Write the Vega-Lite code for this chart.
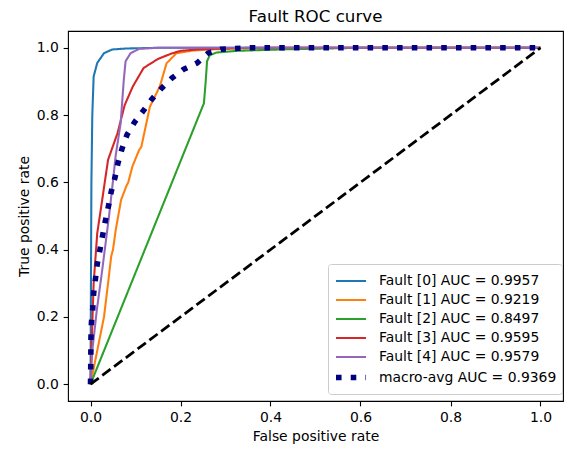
{
  "$schema": "https://vega.github.io/schema/vega-lite/v6.json",
  "width": 495,
  "height": 370,
  "autosize": {"type": "none"},
  "padding": {"left": 68, "top": 31, "right": 17, "bottom": 48},
  "config": {
    "font": "DejaVu Sans",
    "view": {"stroke": "black", "strokeWidth": 1.1},
    "axis": {
      "grid": false,
      "domain": false,
      "tickColor": "black",
      "tickSize": 4.86,
      "tickWidth": 1.1,
      "labelColor": "black",
      "labelFontSize": 13.9,
      "labelPadding": 4.86,
      "titleFontSize": 13.9,
      "titleFontWeight": "normal",
      "titleColor": "black",
      "titlePadding": 5
    },
    "legend": {
      "title": null,
      "orient": "none",
      "legendX": 260,
      "legendY": 233,
      "fillColor": "rgba(255,255,255,0.8)",
      "strokeColor": "#cccccc",
      "cornerRadius": 3,
      "padding": 5,
      "labelFontSize": 13.9,
      "labelColor": "black",
      "labelLimit": 400,
      "labelOffset": 19,
      "symbolType": "M-1,0H1.86",
      "symbolSize": 441,
      "rowPadding": 0
    }
  },
  "title": {
    "text": "Fault ROC curve",
    "fontSize": 16.7,
    "fontWeight": "normal",
    "color": "black",
    "offset": 5
  },
  "layer": [
    {
      "data": {
        "values": [
          {"series": "Fault [0] AUC = 0.9957", "i": 0, "fpr": 0, "tpr": 0},
          {"series": "Fault [0] AUC = 0.9957", "i": 1, "fpr": 0.001, "tpr": 0.3},
          {"series": "Fault [0] AUC = 0.9957", "i": 2, "fpr": 0.002, "tpr": 0.6},
          {"series": "Fault [0] AUC = 0.9957", "i": 3, "fpr": 0.004, "tpr": 0.8},
          {"series": "Fault [0] AUC = 0.9957", "i": 4, "fpr": 0.007, "tpr": 0.915},
          {"series": "Fault [0] AUC = 0.9957", "i": 5, "fpr": 0.015, "tpr": 0.955},
          {"series": "Fault [0] AUC = 0.9957", "i": 6, "fpr": 0.03, "tpr": 0.984},
          {"series": "Fault [0] AUC = 0.9957", "i": 7, "fpr": 0.048, "tpr": 0.995},
          {"series": "Fault [0] AUC = 0.9957", "i": 8, "fpr": 0.08, "tpr": 0.998},
          {"series": "Fault [0] AUC = 0.9957", "i": 9, "fpr": 0.15, "tpr": 1},
          {"series": "Fault [0] AUC = 0.9957", "i": 10, "fpr": 1, "tpr": 1},

          {"series": "Fault [1] AUC = 0.9219", "i": 0, "fpr": 0, "tpr": 0},
          {"series": "Fault [1] AUC = 0.9219", "i": 1, "fpr": 0.015, "tpr": 0.1},
          {"series": "Fault [1] AUC = 0.9219", "i": 2, "fpr": 0.03, "tpr": 0.2},
          {"series": "Fault [1] AUC = 0.9219", "i": 3, "fpr": 0.039, "tpr": 0.3},
          {"series": "Fault [1] AUC = 0.9219", "i": 4, "fpr": 0.046, "tpr": 0.38},
          {"series": "Fault [1] AUC = 0.9219", "i": 5, "fpr": 0.05, "tpr": 0.4},
          {"series": "Fault [1] AUC = 0.9219", "i": 6, "fpr": 0.056, "tpr": 0.458},
          {"series": "Fault [1] AUC = 0.9219", "i": 7, "fpr": 0.068, "tpr": 0.548},
          {"series": "Fault [1] AUC = 0.9219", "i": 8, "fpr": 0.08, "tpr": 0.59},
          {"series": "Fault [1] AUC = 0.9219", "i": 9, "fpr": 0.084, "tpr": 0.6},
          {"series": "Fault [1] AUC = 0.9219", "i": 10, "fpr": 0.093, "tpr": 0.647},
          {"series": "Fault [1] AUC = 0.9219", "i": 11, "fpr": 0.108, "tpr": 0.696},
          {"series": "Fault [1] AUC = 0.9219", "i": 12, "fpr": 0.113, "tpr": 0.706},
          {"series": "Fault [1] AUC = 0.9219", "i": 13, "fpr": 0.132, "tpr": 0.825},
          {"series": "Fault [1] AUC = 0.9219", "i": 14, "fpr": 0.154, "tpr": 0.885},
          {"series": "Fault [1] AUC = 0.9219", "i": 15, "fpr": 0.169, "tpr": 0.954},
          {"series": "Fault [1] AUC = 0.9219", "i": 16, "fpr": 0.191, "tpr": 0.984},
          {"series": "Fault [1] AUC = 0.9219", "i": 17, "fpr": 0.228, "tpr": 0.992},
          {"series": "Fault [1] AUC = 0.9219", "i": 18, "fpr": 0.28, "tpr": 0.996},
          {"series": "Fault [1] AUC = 0.9219", "i": 19, "fpr": 0.4, "tpr": 1},
          {"series": "Fault [1] AUC = 0.9219", "i": 20, "fpr": 1, "tpr": 1},

          {"series": "Fault [2] AUC = 0.8497", "i": 0, "fpr": 0, "tpr": 0},
          {"series": "Fault [2] AUC = 0.8497", "i": 1, "fpr": 0.252, "tpr": 0.835},
          {"series": "Fault [2] AUC = 0.8497", "i": 2, "fpr": 0.256, "tpr": 0.9},
          {"series": "Fault [2] AUC = 0.8497", "i": 3, "fpr": 0.259, "tpr": 0.96},
          {"series": "Fault [2] AUC = 0.8497", "i": 4, "fpr": 0.265, "tpr": 0.978},
          {"series": "Fault [2] AUC = 0.8497", "i": 5, "fpr": 0.28, "tpr": 0.986},
          {"series": "Fault [2] AUC = 0.8497", "i": 6, "fpr": 0.325, "tpr": 0.991},
          {"series": "Fault [2] AUC = 0.8497", "i": 7, "fpr": 0.444, "tpr": 0.996},
          {"series": "Fault [2] AUC = 0.8497", "i": 8, "fpr": 0.6, "tpr": 1},
          {"series": "Fault [2] AUC = 0.8497", "i": 9, "fpr": 1, "tpr": 1},

          {"series": "Fault [3] AUC = 0.9595", "i": 0, "fpr": 0, "tpr": 0},
          {"series": "Fault [3] AUC = 0.9595", "i": 1, "fpr": 0.002, "tpr": 0.1},
          {"series": "Fault [3] AUC = 0.9595", "i": 2, "fpr": 0.007, "tpr": 0.3},
          {"series": "Fault [3] AUC = 0.9595", "i": 3, "fpr": 0.015, "tpr": 0.449},
          {"series": "Fault [3] AUC = 0.9595", "i": 4, "fpr": 0.026, "tpr": 0.548},
          {"series": "Fault [3] AUC = 0.9595", "i": 5, "fpr": 0.039, "tpr": 0.667},
          {"series": "Fault [3] AUC = 0.9595", "i": 6, "fpr": 0.06, "tpr": 0.746},
          {"series": "Fault [3] AUC = 0.9595", "i": 7, "fpr": 0.076, "tpr": 0.83},
          {"series": "Fault [3] AUC = 0.9595", "i": 8, "fpr": 0.094, "tpr": 0.885},
          {"series": "Fault [3] AUC = 0.9595", "i": 9, "fpr": 0.118, "tpr": 0.94},
          {"series": "Fault [3] AUC = 0.9595", "i": 10, "fpr": 0.15, "tpr": 0.967},
          {"series": "Fault [3] AUC = 0.9595", "i": 11, "fpr": 0.18, "tpr": 0.983},
          {"series": "Fault [3] AUC = 0.9595", "i": 12, "fpr": 0.2, "tpr": 0.991},
          {"series": "Fault [3] AUC = 0.9595", "i": 13, "fpr": 0.245, "tpr": 0.996},
          {"series": "Fault [3] AUC = 0.9595", "i": 14, "fpr": 0.35, "tpr": 1},
          {"series": "Fault [3] AUC = 0.9595", "i": 15, "fpr": 1, "tpr": 1},

          {"series": "Fault [4] AUC = 0.9579", "i": 0, "fpr": 0, "tpr": 0},
          {"series": "Fault [4] AUC = 0.9579", "i": 1, "fpr": 0.004, "tpr": 0.1},
          {"series": "Fault [4] AUC = 0.9579", "i": 2, "fpr": 0.014, "tpr": 0.22},
          {"series": "Fault [4] AUC = 0.9579", "i": 3, "fpr": 0.026, "tpr": 0.339},
          {"series": "Fault [4] AUC = 0.9579", "i": 4, "fpr": 0.041, "tpr": 0.498},
          {"series": "Fault [4] AUC = 0.9579", "i": 5, "fpr": 0.048, "tpr": 0.58},
          {"series": "Fault [4] AUC = 0.9579", "i": 6, "fpr": 0.056, "tpr": 0.68},
          {"series": "Fault [4] AUC = 0.9579", "i": 7, "fpr": 0.067, "tpr": 0.776},
          {"series": "Fault [4] AUC = 0.9579", "i": 8, "fpr": 0.074, "tpr": 0.905},
          {"series": "Fault [4] AUC = 0.9579", "i": 9, "fpr": 0.078, "tpr": 0.96},
          {"series": "Fault [4] AUC = 0.9579", "i": 10, "fpr": 0.089, "tpr": 0.984},
          {"series": "Fault [4] AUC = 0.9579", "i": 11, "fpr": 0.108, "tpr": 0.997},
          {"series": "Fault [4] AUC = 0.9579", "i": 12, "fpr": 0.15, "tpr": 1},
          {"series": "Fault [4] AUC = 0.9579", "i": 13, "fpr": 1, "tpr": 1},

          {"series": "macro-avg AUC = 0.9369", "i": 0, "fpr": 0, "tpr": 0},
          {"series": "macro-avg AUC = 0.9369", "i": 1, "fpr": 0.0005, "tpr": 0.05},
          {"series": "macro-avg AUC = 0.9369", "i": 2, "fpr": 0.001, "tpr": 0.137},
          {"series": "macro-avg AUC = 0.9369", "i": 3, "fpr": 0.002, "tpr": 0.182},
          {"series": "macro-avg AUC = 0.9369", "i": 4, "fpr": 0.005, "tpr": 0.225},
          {"series": "macro-avg AUC = 0.9369", "i": 5, "fpr": 0.007, "tpr": 0.27},
          {"series": "macro-avg AUC = 0.9369", "i": 6, "fpr": 0.011, "tpr": 0.313},
          {"series": "macro-avg AUC = 0.9369", "i": 7, "fpr": 0.015, "tpr": 0.357},
          {"series": "macro-avg AUC = 0.9369", "i": 8, "fpr": 0.021, "tpr": 0.4},
          {"series": "macro-avg AUC = 0.9369", "i": 9, "fpr": 0.027, "tpr": 0.443},
          {"series": "macro-avg AUC = 0.9369", "i": 10, "fpr": 0.033, "tpr": 0.486},
          {"series": "macro-avg AUC = 0.9369", "i": 11, "fpr": 0.04, "tpr": 0.53},
          {"series": "macro-avg AUC = 0.9369", "i": 12, "fpr": 0.046, "tpr": 0.572},
          {"series": "macro-avg AUC = 0.9369", "i": 13, "fpr": 0.054, "tpr": 0.612},
          {"series": "macro-avg AUC = 0.9369", "i": 14, "fpr": 0.061, "tpr": 0.657},
          {"series": "macro-avg AUC = 0.9369", "i": 15, "fpr": 0.07, "tpr": 0.7},
          {"series": "macro-avg AUC = 0.9369", "i": 16, "fpr": 0.081, "tpr": 0.741},
          {"series": "macro-avg AUC = 0.9369", "i": 17, "fpr": 0.098, "tpr": 0.779},
          {"series": "macro-avg AUC = 0.9369", "i": 18, "fpr": 0.118, "tpr": 0.814},
          {"series": "macro-avg AUC = 0.9369", "i": 19, "fpr": 0.136, "tpr": 0.847},
          {"series": "macro-avg AUC = 0.9369", "i": 20, "fpr": 0.158, "tpr": 0.88},
          {"series": "macro-avg AUC = 0.9369", "i": 21, "fpr": 0.181, "tpr": 0.91},
          {"series": "macro-avg AUC = 0.9369", "i": 22, "fpr": 0.207, "tpr": 0.936},
          {"series": "macro-avg AUC = 0.9369", "i": 23, "fpr": 0.237, "tpr": 0.955},
          {"series": "macro-avg AUC = 0.9369", "i": 24, "fpr": 0.261, "tpr": 0.984},
          {"series": "macro-avg AUC = 0.9369", "i": 25, "fpr": 0.29, "tpr": 0.996},
          {"series": "macro-avg AUC = 0.9369", "i": 26, "fpr": 0.35, "tpr": 1},
          {"series": "macro-avg AUC = 0.9369", "i": 27, "fpr": 1, "tpr": 1}
        ]
      },
      "mark": {"type": "line", "strokeCap": "butt", "strokeJoin": "round"},
      "encoding": {
        "x": {
          "field": "fpr",
          "type": "quantitative",
          "title": "False positive rate",
          "scale": {"domain": [-0.05, 1.05], "nice": false, "zero": false},
          "axis": {"values": [0, 0.2, 0.4, 0.6, 0.8, 1.0], "format": ".1f"}
        },
        "y": {
          "field": "tpr",
          "type": "quantitative",
          "title": "True positive rate",
          "scale": {"domain": [-0.05, 1.05], "nice": false, "zero": false},
          "axis": {"values": [0, 0.2, 0.4, 0.6, 0.8, 1.0], "format": ".1f"}
        },
        "order": {"field": "i", "type": "quantitative"},
        "color": {
          "field": "series",
          "type": "nominal",
          "scale": {
            "domain": ["Fault [0] AUC = 0.9957", "Fault [1] AUC = 0.9219", "Fault [2] AUC = 0.8497", "Fault [3] AUC = 0.9595", "Fault [4] AUC = 0.9579", "macro-avg AUC = 0.9369"],
            "range": ["#1f77b4", "#ff7f0e", "#2ca02c", "#d62728", "#9467bd", "#000080"]
          }
        },
        "strokeDash": {
          "field": "series",
          "type": "nominal",
          "scale": {
            "domain": ["Fault [0] AUC = 0.9957", "Fault [1] AUC = 0.9219", "Fault [2] AUC = 0.8497", "Fault [3] AUC = 0.9595", "Fault [4] AUC = 0.9579", "macro-avg AUC = 0.9369"],
            "range": [[1, 0], [1, 0], [1, 0], [1, 0], [1, 0], [5.56, 9.17]]
          }
        },
        "strokeWidth": {
          "field": "series",
          "type": "nominal",
          "scale": {
            "type": "ordinal",
            "domain": ["Fault [0] AUC = 0.9957", "Fault [1] AUC = 0.9219", "Fault [2] AUC = 0.8497", "Fault [3] AUC = 0.9595", "Fault [4] AUC = 0.9579", "macro-avg AUC = 0.9369"],
            "range": [2.08, 2.08, 2.08, 2.08, 2.08, 5.56]
          }
        }
      }
    },
    {
      "data": {"values": [{"fpr": 0, "tpr": 0}, {"fpr": 1, "tpr": 1}]},
      "mark": {"type": "line", "color": "black", "strokeWidth": 2.78, "strokeDash": [10.3, 4.4], "strokeCap": "butt"},
      "encoding": {
        "x": {"field": "fpr", "type": "quantitative"},
        "y": {"field": "tpr", "type": "quantitative"}
      }
    }
  ]
}
